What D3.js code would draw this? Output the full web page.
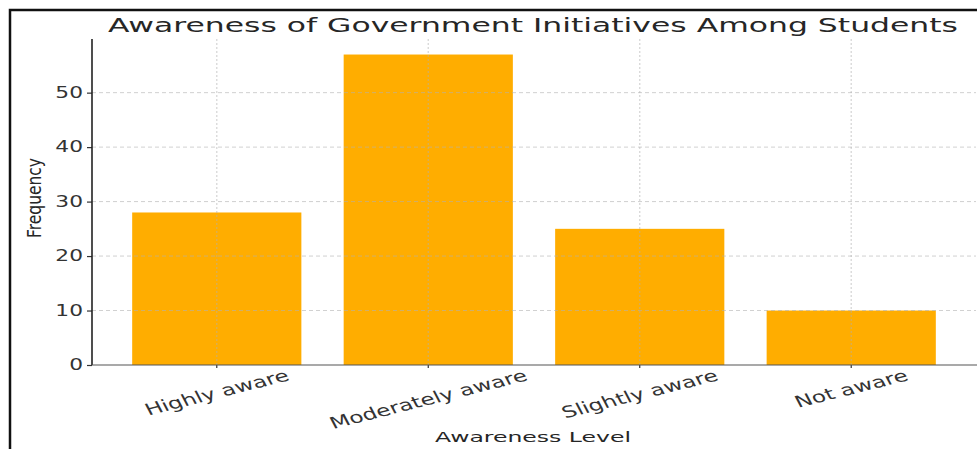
<!DOCTYPE html>
<html>
<head>
<meta charset="utf-8">
<script src="https://cdn.jsdelivr.net/npm/d3@7"></script>
<style>
  body { margin: 0; background: #fff; }
  svg { display: block; font-family: "DejaVu Sans", sans-serif; }
</style>
</head>
<body>
<svg width="977" height="449"></svg>
<script>
// данные графика
const categories = ["Highly aware", "Moderately aware", "Slightly aware", "Not aware"];
const frequency = [28, 57, 25, 10];
const yTicks = [0, 10, 20, 30, 40, 50];

const svg = d3.select("svg");
const stretch = 1.45; // картинка растянута по горизонтали

const area = { left: 92, right: 976, top: 39, bottom: 365 };

// рамка
svg.append("path")
    .attr("d", "M10,449 L10,10 L977,10")
    .style("fill", "none")
    .style("stroke", "#111")
    .style("stroke-width", 2.5);

const scaleX = d3.scaleBand()
    .domain(categories)
    .range([area.left, area.right])
    .paddingInner(0.2)
    .paddingOuter(0.19);

const scaleY = d3.scaleLinear()
    .domain([0, d3.max(frequency) * 1.05])
    .range([area.bottom, area.top]);

// столбцы
svg.selectAll(".bar")
    .data(frequency)
    .enter()
    .append("rect")
    .attr("x", (d, i) => scaleX(categories[i]))
    .attr("y", d => scaleY(d))
    .attr("width", scaleX.bandwidth())
    .attr("height", d => scaleY(0) - scaleY(d))
    .style("fill", "#ffad00");

// сетка поверх столбцов
svg.append("g")
    .selectAll("line")
    .data(yTicks.filter(d => d > 0))
    .enter()
    .append("line")
    .attr("x1", area.left).attr("x2", area.right)
    .attr("y1", d => scaleY(d)).attr("y2", d => scaleY(d))
    .style("stroke", "#b0b0b0")
    .style("stroke-opacity", 0.6)
    .style("stroke-dasharray", "4,3");

svg.append("g")
    .selectAll("line")
    .data(categories)
    .enter()
    .append("line")
    .attr("x1", d => scaleX(d) + scaleX.bandwidth() / 2)
    .attr("x2", d => scaleX(d) + scaleX.bandwidth() / 2)
    .attr("y1", area.top).attr("y2", area.bottom)
    .style("stroke", "#b0b0b0")
    .style("stroke-opacity", 0.5)
    .style("stroke-dasharray", "2,2")
    .style("stroke-width", 1.3);

// ось Y
const axisY = svg.append("g")
    .attr("transform", `translate(${area.left}, 0)`)
    .call(d3.axisLeft(scaleY).tickValues(yTicks).tickSize(5).tickPadding(4));
axisY.select(".domain").remove();
axisY.selectAll("line").style("stroke", "#333").style("stroke-width", 1.2);
axisY.selectAll("text")
    .style("font-family", "DejaVu Sans")
    .style("font-size", "15px")
    .style("fill", "#333")
    .attr("text-anchor", "middle")
    .attr("x", null)
    .attr("transform", function () {
        const w = this.getComputedTextLength() * stretch;
        return `translate(${-9 - w / 2}, 0) scale(${stretch}, 1)`;
    });

// ось X
const axisX = svg.append("g")
    .attr("transform", `translate(0, ${area.bottom})`)
    .call(d3.axisBottom(scaleX).tickSize(3).tickSizeOuter(0));
axisX.select(".domain").remove();
axisX.selectAll("line").style("stroke", "#333").style("stroke-width", 1.2);

const angle = 20 * Math.PI / 180;
axisX.selectAll("text")
    .style("font-family", "DejaVu Sans")
    .style("font-size", "16px")
    .style("fill", "#333")
    .attr("y", 0)
    .attr("dy", "0.35em")
    .attr("text-anchor", "middle")
    .attr("transform", function () {
        const w = this.getComputedTextLength();
        const h = w * Math.sin(angle) + 16 * Math.cos(angle);
        return `translate(0, ${2 + h / 2}) scale(${stretch}, 1) rotate(-20)`;
    });

// линии осей
svg.append("line")
    .attr("x1", area.left).attr("x2", area.left)
    .attr("y1", area.top).attr("y2", area.bottom)
    .style("stroke", "#222").style("stroke-width", 1.6);
svg.append("line")
    .attr("x1", area.left).attr("x2", area.right + 1)
    .attr("y1", area.bottom).attr("y2", area.bottom)
    .style("stroke", "#555").style("stroke-width", 1.2);

// подписи
svg.append("text")
    .attr("x", 533).attr("y", 32)
    .attr("text-anchor", "middle")
    .style("font-size", "19.5px")
    .style("fill", "#262626")
    .attr("textLength", 850)
    .attr("lengthAdjust", "spacingAndGlyphs")
    .text("Awareness of Government Initiatives Among Students");

svg.append("text")
    .attr("x", 533).attr("y", 442)
    .attr("text-anchor", "middle")
    .style("font-size", "14px")
    .style("fill", "#262626")
    .attr("textLength", 196)
    .attr("lengthAdjust", "spacingAndGlyphs")
    .text("Awareness Level");

svg.append("text")
    .attr("transform", `translate(41, 198) scale(1.3, 1) rotate(-90)`)
    .attr("text-anchor", "middle")
    .style("font-size", "15px")
    .style("fill", "#262626")
    .attr("textLength", 80)
    .attr("lengthAdjust", "spacingAndGlyphs")
    .text("Frequency");
</script>
</body>
</html>
